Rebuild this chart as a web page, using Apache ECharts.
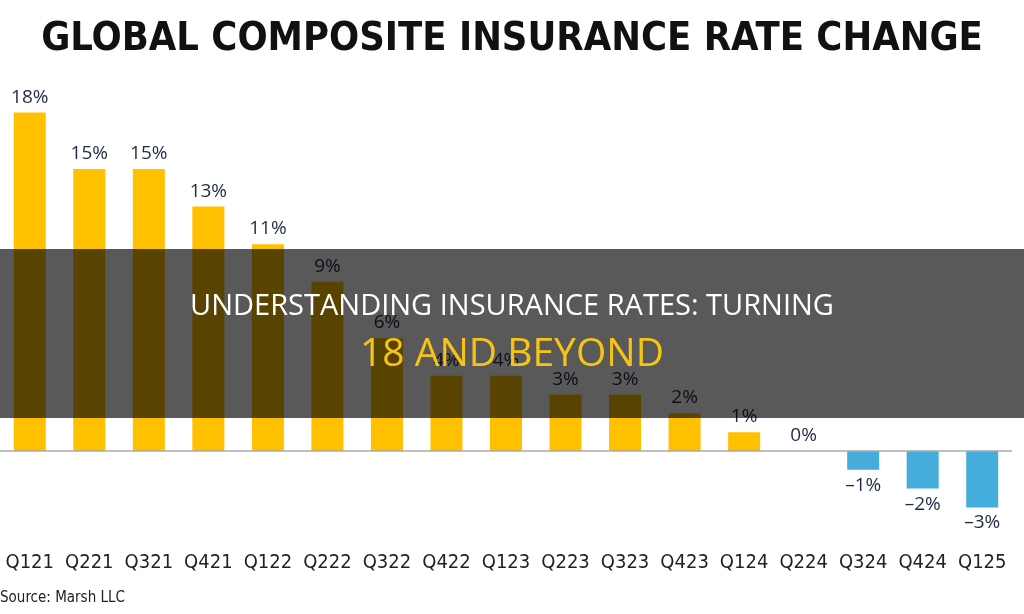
<!DOCTYPE html>
<html>
<head>
<meta charset="utf-8">
<script src="https://cdn.jsdelivr.net/npm/echarts@6/dist/echarts.min.js"></script>
<style>
  html, body { margin: 0; padding: 0; background: #fff; }
  #chart { width: 1024px; height: 614px; }
</style>
</head>
<body>
<div id="chart"></div>
<script>
let quarters = ['Q121', 'Q221', 'Q321', 'Q421', 'Q122', 'Q222', 'Q322', 'Q422', 'Q123',
    'Q223', 'Q323', 'Q423', 'Q124', 'Q224', 'Q324', 'Q424', 'Q125'];
let rateChange = [18, 15, 15, 13, 11, 9, 6, 4, 4, 3, 3, 2, 1, 0, -1, -2, -3];

window.onload = function () {
    let chart = echarts.init(document.getElementById('chart'));
    let option = {
        animation: false,
        title: {
            text: 'GLOBAL COMPOSITE INSURANCE RATE CHANGE',
            left: 'center',
            top: 15,
            textStyle: {
                fontFamily: 'DejaVu Sans Condensed',
                fontWeight: 'bold',
                fontSize: 39.5,
                color: '#111'
            }
        },
        grid: { left: 0, width: 1012, top: 75, height: 470 },
        xAxis: {
            type: 'category',
            data: quarters,
            axisLine: { onZero: false, show: false },
            axisTick: { show: false },
            axisLabel: {
                interval: 0,
                margin: 8,
                fontFamily: 'DejaVu Sans Condensed',
                fontSize: 20,
                color: '#222'
            }
        },
        yAxis: {
            type: 'value',
            min: -5,
            max: 20,
            show: false,
            splitLine: { show: false }
        },
        series: [
            {
                type: 'bar',
                barWidth: 32,
                data: rateChange.map((v) => ({
                    value: v,
                    itemStyle: { color: v < 0 ? '#45ADDC' : '#FFC000' },
                    label: { position: v < 0 ? 'bottom' : 'top' }
                })),
                label: {
                    show: true,
                    distance: 6,
                    fontFamily: 'Open Sans',
                    fontSize: 19,
                    color: '#1f2a44',
                    formatter: (p) => (p.value < 0 ? '\u2013' + Math.abs(p.value) : p.value) + '%'
                },
                markLine: {
                    silent: true,
                    symbol: 'none',
                    label: { show: false },
                    lineStyle: { color: '#aaa', width: 1.5, type: 'solid' },
                    data: [{ yAxis: 0 }]
                }
            }
        ],
        graphic: [
            {
                type: 'rect',
                z: 100,
                shape: { x: 0, y: 249, width: 1024, height: 169 },
                style: { fill: 'rgba(0,0,0,0.65)' }
            },
            {
                type: 'text',
                z: 101,
                left: 'center',
                top: 292,
                style: {
                    text: 'UNDERSTANDING INSURANCE RATES: TURNING',
                    fontFamily: 'Open Sans',
                    fontSize: 29,
                    fill: '#fff'
                }
            },
            {
                type: 'text',
                z: 101,
                left: 'center',
                top: 335,
                style: {
                    text: '18 AND BEYOND',
                    fontFamily: 'Open Sans',
                    fontSize: 39,
                    fill: '#F5C416'
                }
            },
            {
                type: 'text',
                left: 0,
                top: 591,
                style: {
                    text: 'Source: Marsh LLC',
                    fontFamily: 'DejaVu Sans Condensed',
                    fontSize: 15,
                    fill: '#222'
                }
            }
        ]
    };
    chart.setOption(option);
}
</script>
</body>
</html>
